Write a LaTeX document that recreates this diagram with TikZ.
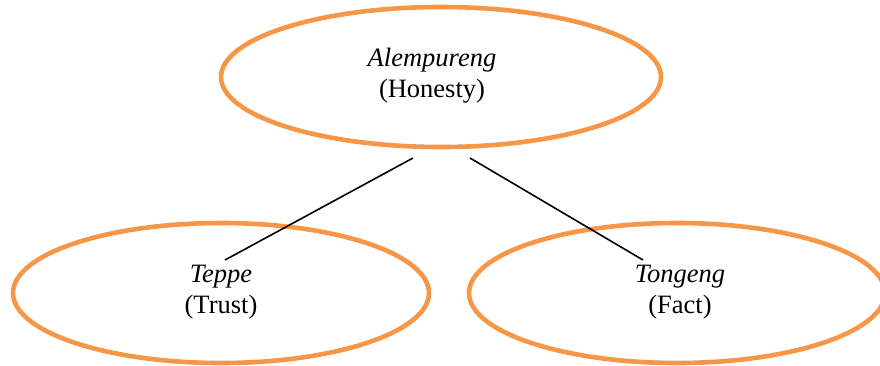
\documentclass[tikz,border=0pt]{standalone}
\usepackage{fontspec}
\setmainfont{Liberation Serif}
\usetikzlibrary{shapes.geometric,calc}
\definecolor{ringorange}{HTML}{F79646}
\tikzset{
  ring/.style={ellipse, draw=ringorange, line width=4.6pt, inner sep=0pt,
               minimum width=#1, minimum height=140pt},
  term/.style={align=center, inner sep=0pt, font=\fontsize{26.5pt}{31pt}\selectfont},
  link/.style={draw=black, line width=1.6pt}
}
\begin{document}
\begin{tikzpicture}[x=1pt, y=-1pt]
  \useasboundingbox (0,0) rectangle (880,365);
  \clip (0,0) rectangle (880,365);
  % three concept rings
  \node[ring=440pt] (hon) at (441,77) {};
  \node[ring=416pt] (tru) at (221,293) {};
  \node[ring=416pt] (fac) at (677,293) {};
  % labels
  \node[term] (honT) at (432,76) {\textit{Alempureng}\\(Honesty)};
  \node[term] (truT) at (221,292) {\textit{Teppe}\\(Trust)};
  \node[term] (facT) at (680,292) {\textit{Tongeng}\\(Fact)};
  % connector end points
  \coordinate (a1) at (413,158);
  \coordinate (a2) at (470,158);
  \coordinate (b1) at (225,260);
  \coordinate (b2) at (643,260);
  \draw[link] (a1) -- (b1);
  \draw[link] (a2) -- (b2);
\end{tikzpicture}
\end{document}
